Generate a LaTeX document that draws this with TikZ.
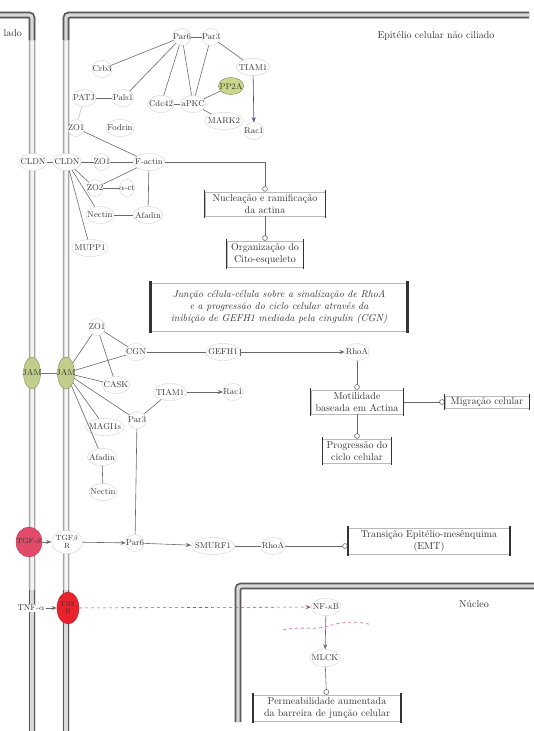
\documentclass[tikz,border=0pt]{standalone}
\usetikzlibrary{arrows.meta,shapes.geometric,calc}
\definecolor{txt}{RGB}{50,50,50}
\definecolor{ln}{RGB}{105,105,105}
\definecolor{jamg}{RGB}{192,205,140}
\definecolor{ppg}{RGB}{205,215,140}
\definecolor{tgfc}{RGB}{225,75,105}
\definecolor{tnfc}{RGB}{232,35,45}
\definecolor{slate}{RGB}{70,75,120}
\definecolor{pinkd}{RGB}{235,120,150}
\begin{document}
\begin{tikzpicture}[x=1pt,y=-1pt,
  mol/.style={ellipse,draw=gray!35,fill=white,inner xsep=-2.5pt,inner ysep=1.5pt,minimum height=17pt,text=txt,font=\fontsize{8.5}{9}\selectfont},
  fix/.style={ellipse,draw=gray!35,fill=white,inner sep=0pt,text=txt,font=\fontsize{8.5}{9}\selectfont},
  lbl/.style={text=txt,font=\fontsize{10}{12}\selectfont},
  boxn/.style={draw=gray!55,line width=0.5pt,fill=white,align=center,inner xsep=4pt,inner ysep=2.5pt,text=txt,font=\fontsize{10}{12}\selectfont},
  membr/.style={draw=gray!70,line width=1.5pt,double=gray!8,double distance=3.5pt,rounded corners=3pt},
  membd/.style={draw=gray!70!black,line width=1.7pt,double=gray!30,double distance=3.3pt,rounded corners=3pt},
  conn/.style={draw=ln,line width=0.6pt},
  act/.style={conn,-{Stealth[length=5pt,width=4pt]}},
  inh/.style={conn,-{Circle[open,length=5.5pt,width=5.5pt]}},
]
\useasboundingbox (0,0) rectangle (534,731);
\clip (0,0) rectangle (534,731);
% membranes
\draw[membr] (-5,15) -- (32,15) -- (32,740);
\draw[membr] (66,740) -- (66,15) -- (529,15);
\draw[membd] (-5,15) -- (32,15) -- (32,40);
\draw[membd] (66,40) -- (66,15) -- (529,15);
\draw[membd] (32,590) -- (32,740);
\draw[membd] (66,590) -- (66,740);
\draw[membd] (238,722) -- (238,586) -- (540,586);

% labels
\node[lbl,anchor=west] (ladoL) at (0,33) {lado};
\node[lbl] (epiL) at (436,36) {Epitélio celular não ciliado};
\node[lbl] (nucL) at (474,604) {Núcleo};

% ---- top group
\node[mol] (par6a) at (182,37) {Par6};
\node[mol] (par3a) at (211,37) {Par3};
\node[mol] (crb3) at (102,69) {Crb3};
\node[mol] (patj) at (84,98) {PATJ};
\node[mol] (pals1) at (123,98) {Pals1};
\node[mol] (cdc42) at (161,104) {Cdc42};
\node[mol] (apkc) at (193,104) {aPKC};
\node[mol,fill=ppg,draw=ppg!60!black] (pp2a) at (231,86) {PP2A};
\node[mol] (tiam1a) at (253,67) {TIAM1};
\node[mol] (mark2) at (224,121) {MARK2};
\node[mol] (rac1a) at (254,131) {Rac1};
\node[mol] (zo1a) at (76,128) {ZO1};
\node[mol] (fodrin) at (120,128) {Fodrin};

\draw[conn] (par6a) -- (par3a);
\draw[conn] (par6a) -- (crb3);
\draw[conn] (par6a) -- (pals1);
\draw[conn] (par6a) -- (cdc42);
\draw[conn] (par6a) -- (apkc);
\draw[conn] (par3a) -- (apkc);
\draw[conn] (par3a) -- (tiam1a);
\draw[conn] (patj) -- (pals1);
\draw[conn] (cdc42) -- (apkc);
\draw[conn] (apkc) -- (pp2a);
\draw[conn] (apkc) -- (mark2);
\draw[act,draw=slate] (tiam1a) -- (rac1a);
\draw[conn,draw=gray!45] (patj) -- (zo1a);

% ---- claudin group
\node[mol] (cldnL) at (33,162) {CLDN};
\node[mol] (cldnR) at (67,162) {CLDN};
\node[mol] (zo1b) at (102,162) {ZO1};
\node[mol] (factin) at (149,162) {F-actin};
\node[mol] (zo2) at (95,188) {ZO2};
\node[mol] (act1) at (127,188) {$\alpha$-ct};
\node[mol] (nectinA) at (100,215) {Nectin};
\node[mol] (afadinA) at (148,215) {Afadin};
\node[mol] (mupp1) at (90,248) {MUPP1};

\draw[conn] (cldnL) -- (cldnR);
\draw[conn] (cldnR) -- (zo1b);
\draw[conn] (zo1b) -- (factin);
\draw[conn] (zo1a) -- (factin);
\draw[conn] (zo2) -- (factin);
\draw[conn] (zo2) -- (act1);
\draw[conn] (factin) -- (afadinA);
\draw[conn] (nectinA) -- (afadinA);
\draw[conn] (cldnR) -- (zo2);
\draw[conn] (cldnR) -- (nectinA);
\draw[conn] (cldnR) -- (mupp1);

\node[boxn,minimum width=120pt] (box1) at (265,204) {Nucleação e ramificação\\da actina};
\node[boxn,minimum width=76pt] (box2) at (265,254) {Organização do\\Cito-esqueleto};
\draw[inh] (factin) -| (box1);
\draw[inh] (box1) -- (box2);

\node[boxn,minimum width=257pt,minimum height=48pt,font=\fontsize{10}{12}\selectfont\itshape] (box3) at (279,307)
  {Junção célula-célula sobre a sinalização de RhoA\\e a progressão do ciclo celular através da\\inibição de GEFH1 mediada pela cingulin (CGN)};

% ---- JAM group
\node[fix,fill=jamg,draw=jamg!70!black,minimum width=17pt,minimum height=32pt] (jamL) at (32,373) {\makebox[0pt]{JAM}};
\node[fix,fill=jamg,draw=jamg!70!black,minimum width=17pt,minimum height=32pt] (jamR) at (66,373) {\makebox[0pt]{JAM}};
\node[mol] (zo1c) at (97,327) {ZO1};
\node[mol] (cgn) at (136,352) {CGN};
\node[mol] (gefh1) at (223,352) {GEFH1};
\node[mol] (rhoa1) at (357,352) {RhoA};
\node[mol] (cask) at (116,385) {CASK};
\node[mol] (tiam1b) at (170,392) {TIAM1};
\node[mol] (rac1b) at (233,392) {Rac1};
\node[mol] (par3b) at (137,420) {Par3};
\node[mol] (magi) at (105,427) {MAGI1s};
\node[mol] (afadinB) at (102,457) {Afadin};
\node[mol] (nectinB) at (103,492) {Nectin};

\draw[conn,draw=blue!60] (jamL) -- (jamR);
\draw[conn] (jamR) -- (zo1c);
\draw[conn] (jamR) -- (cgn);
\draw[conn] (jamR) -- (cask);
\draw[conn] (jamR) -- (par3b);
\draw[conn] (jamR) -- (magi);
\draw[conn] (jamR) -- (afadinB);
\draw[conn] (zo1c) -- (cgn);
\draw[conn] (zo1c) -- (cask);
\draw[conn] (cgn) -- (gefh1);
\draw[conn,{Bar[width=7pt]}-{Stealth[length=5pt,width=4pt]}] (gefh1) -- (rhoa1);
\draw[act] (tiam1b) -- (rac1b);
\draw[conn] (tiam1b) -- (par3b);
\draw[conn] (afadinB) -- (nectinB);

\node[boxn,minimum width=92pt] (box4) at (357,402) {Motilidade\\baseada em Actina};
\node[boxn,minimum width=84pt,inner ysep=1.5pt] (box5) at (487,402) {Migração celular};
\node[boxn,minimum width=66pt] (box6) at (357,451) {Progressão do\\ciclo celular};
\draw[inh] (rhoa1) -- (box4);
\draw[inh] (box4) -- (box5);
\draw[inh] (box4) -- (box6);

% ---- TGF group
\node[fix,fill=tgfc,draw=tgfc!80!black,minimum width=26pt,minimum height=30pt] (tgfb) at (29,542) {\makebox[0pt]{\fontsize{7.5}{8}\selectfont TGF-$\beta$}};
\node[mol,align=center,font=\fontsize{7.5}{8}\selectfont,inner xsep=0pt] (tgfrn) at (67,542) {TGF$\beta$\\R};
\node[mol] (par6b) at (135,543) {Par6};
\node[mol] (smurf) at (213,546) {SMURF1};
\node[mol] (rhoa2) at (273,546) {RhoA};
\node[boxn,minimum width=162pt] (box7) at (429,541) {Transição Epitélio-mesênquima\\(EMT)};

\draw[act] (tgfb) -- (tgfrn);
\draw[act] (tgfrn) -- (par6b);
\draw[conn] (par3b) -- (par6b);
\draw[act] (par6b) -- (smurf);
\draw[conn] (smurf) -- (rhoa2);
\draw[inh] (rhoa2) -- (rhoa2 -| box7.west);

% ---- TNF group
\node[lbl,fill=white,inner sep=1pt,font=\fontsize{8.5}{9}\selectfont] (tnfa) at (31,608) {TNF-$\alpha$};
\node[fix,fill=tnfc,draw=tnfc!80!black,minimum width=20pt,minimum height=32pt,align=center,font=\fontsize{6.5}{7}\selectfont] (tnfrn) at (68,608) {TNF\\R};
\node[mol] (nfkb) at (326,607) {NF-$\kappa$B};
\node[mol] (mlck) at (325,658) {MLCK};
\node[boxn,minimum width=147pt] (box8) at (327,708) {Permeabilidade aumentada\\da barreira de junção celular};

\draw[act] (tnfa) -- (tnfrn);
\draw[act,dashed,draw=red!35!gray] (tnfrn) -- (nfkb);
\draw[act] (nfkb) -- (mlck);
\draw[inh] (mlck) -- (box8);
\draw[draw=pinkd,dash pattern=on 3pt off 3pt,line width=0.8pt] (283,630) .. controls (300,626) and (312,630) .. (325,627) .. controls (340,622) and (355,620) .. (372,625);

% box side bars
\foreach \b/\w in {box1/1.4pt,box2/1.2pt,box3/3pt,box4/1.4pt,box5/1pt,box6/1.2pt,box7/2.4pt,box8/2.2pt}{
  \draw[draw=gray!40!black,line width=\w] ([yshift=2pt]\b.north west) -- ([yshift=-2pt]\b.south west)
    ([yshift=2pt]\b.north east) -- ([yshift=-2pt]\b.south east);
}
\end{tikzpicture}
\end{document}
